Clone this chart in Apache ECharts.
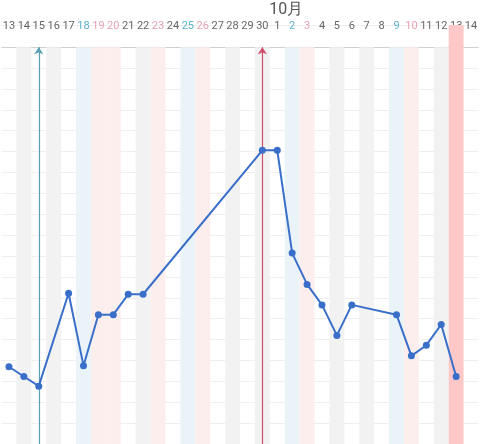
<!DOCTYPE html>
<html><head><meta charset="utf-8">
<script src="https://cdn.jsdelivr.net/npm/echarts@6/dist/echarts.min.js"></script>
<style>html,body{margin:0;padding:0;background:#fff;overflow:hidden}#c{width:480px;height:444px}</style>
</head><body><div id="c"></div>
<script>
const days = ['13','14','15','16','17','18','19','20','21','22','23','24','25','26','27','28','29','30','1','2','3','4','5','6','7','8','9','10','11','12','13','14'];
const labelKind = ['g','g','g','g','g','b','p','p','g','g','p','g','b','p','g','g','g','g','g','b','p','g','g','g','g','g','b','p','g','g','g','g'];
const bandKind = ['','g','','g','','b','p','p','','g','p','','b','p','','g','','g','','b','p','','g','','g','','b','p','','g','t',''];
const values = [3.7,3.23,2.77,null,7.22,3.75,6.19,6.19,7.17,7.17,null,null,null,null,null,null,null,14.06,14.06,9.14,7.64,6.66,5.2,6.66,null,null,6.19,4.22,4.73,5.72,3.23,null];
const markIdx = [2,17];
const plotTop = 19, axisMax = 20.06;
const bandColors = {g:'#f2f2f2', b:'#eaf4f8', p:'#fdeeee', t:'#ffc8c8'};
const bandData = bandKind.map(k => k ? {value: k==='t'?axisMax:plotTop, itemStyle:{color:bandColors[k]}} : null);
const splitColors = [];
for (let i=0;i<=20;i++) splitColors.push(i===19?'#cfcfcf':(i===20?'rgba(0,0,0,0)':'#efefef'));
const chart = echarts.init(document.getElementById('c'));
chart.setOption({
  animation:false,
  grid:{left:-0.7,width:491.2,top:25,height:428},
  xAxis:{type:'category',position:'top',data:days.map((d,i)=>i),boundaryGap:true,
    axisLine:{show:false},axisTick:{show:false},
    axisLabel:{interval:0,margin:-7,formatter:(v,i)=>{const d=days[i];return i===18?'{m|10月}\n{'+labelKind[i]+'|'+d+'}':'{'+labelKind[i]+'|'+d+'}';},
      rich:{g:{color:'#666',fontSize:11,fontFamily:'Roboto'},b:{color:'#5bb3cc',fontSize:11,fontFamily:'Roboto'},p:{color:'#e5a3b3',fontSize:11,fontFamily:'Roboto'},m:{color:'#555',fontSize:16,fontFamily:'Roboto',padding:[0,0,2,18],lineHeight:20}}}},
  yAxis:{type:'value',min:0,max:axisMax,interval:1,axisLabel:{show:false},axisLine:{show:false},axisTick:{show:false},
    splitLine:{lineStyle:{color:splitColors,width:1}}},
  series:[
    {type:'bar',data:bandData,barWidth:'100%',silent:true,z:1},
    {type:'line',data:values,connectNulls:true,z:5,symbol:'circle',symbolSize:7,
      lineStyle:{color:'#3a6fc9',width:2},itemStyle:{color:'#3a6fc9'},
      markLine:{silent:true,symbol:['none','arrow'],symbolSize:7,label:{show:false},
        data:[
          [{xAxis:markIdx[0],yAxis:0,lineStyle:{color:'#5a9fb5',width:1.2,type:'solid'},itemStyle:{color:'#5a9fb5'}},{xAxis:markIdx[0],yAxis:plotTop}],
          [{xAxis:markIdx[1],yAxis:0,lineStyle:{color:'#d0506e',width:1.2,type:'solid'},itemStyle:{color:'#d0506e'}},{xAxis:markIdx[1],yAxis:plotTop}]
        ]}}
  ]
});
</script></body></html>
